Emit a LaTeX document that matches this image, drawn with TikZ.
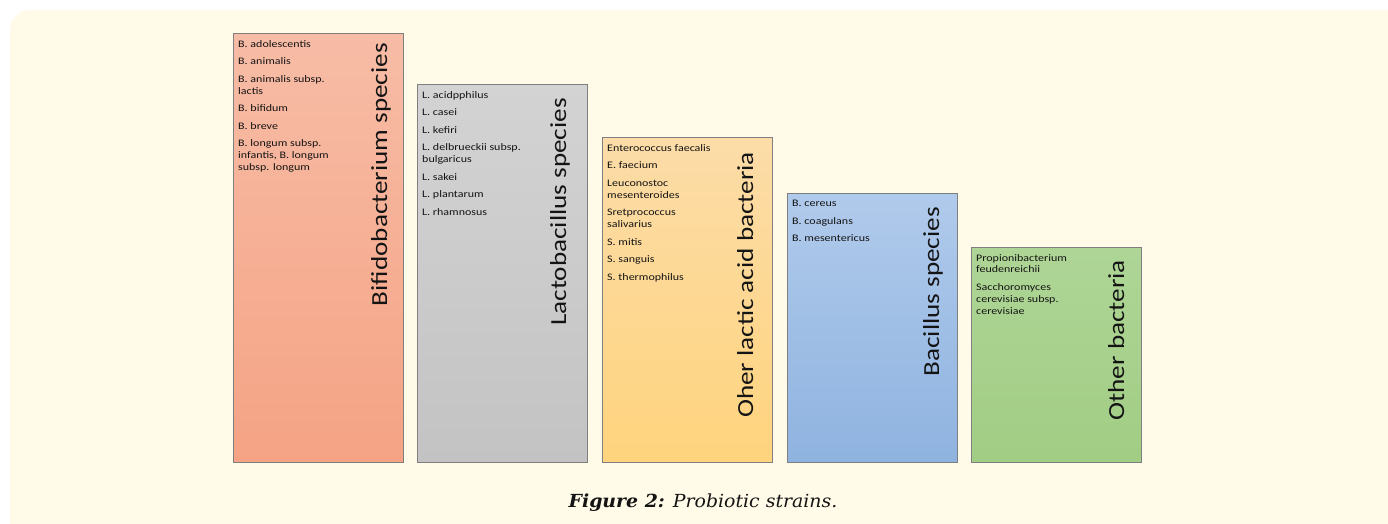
\documentclass[tikz,border=0pt]{standalone}
\usepackage{fontspec}
\setmainfont{DejaVu Serif}
\newfontfamily\capfont[FakeStretch=1.05]{DejaVu Serif}
\newfontfamily\listfont[FakeStretch=1.2]{Carlito}
\newfontfamily\titlefont[FakeStretch=1.18]{Carlito}
\definecolor{bgcream}{HTML}{FFFBE8}
\definecolor{boxborder}{HTML}{7F7F7F}
\definecolor{bifT}{HTML}{F7BCA6}
\definecolor{bifB}{HTML}{F5A384}
\definecolor{lacT}{HTML}{D3D3D3}
\definecolor{lacB}{HTML}{C3C3C3}
\definecolor{labT}{HTML}{FCDCA8}
\definecolor{labB}{HTML}{FFD47E}
\definecolor{bacT}{HTML}{B0CAEB}
\definecolor{bacB}{HTML}{8FB3E0}
\definecolor{othT}{HTML}{AED596}
\definecolor{othB}{HTML}{A1CD84}
\definecolor{ink}{HTML}{141414}
\tikzset{
  catbox/.style={draw=boxborder, line width=1bp, inner sep=0, anchor=north west, minimum width=170bp},
  listtext/.style={anchor=north west, align=left, inner sep=0, text=ink, font=\listfont\fontsize{10bp}{11.8bp}\selectfont},
  titletext/.style={rotate=90, anchor=base east, inner sep=0, text=ink, font=\titlefont\fontsize{23bp}{27bp}\selectfont},
}
\begin{document}
\begin{tikzpicture}[x=1bp,y=-1bp]
\useasboundingbox (0,0) rectangle (1388,524);
\clip (0,0) rectangle (1388,524);
\fill[bgcream, rounded corners=20bp] (10,10) rectangle (1420,560);

% boxes
\node[catbox, top color=bifT, bottom color=bifB, minimum height=429bp] (bif) at (233,33) {};
\node[catbox, top color=lacT, bottom color=lacB, minimum height=378bp] (lac) at (417,84) {};
\node[catbox, top color=labT, bottom color=labB, minimum height=325bp] (lab) at (602,137) {};
\node[catbox, top color=bacT, bottom color=bacB, minimum height=269bp] (bac) at (787,193) {};
\node[catbox, top color=othT, bottom color=othB, minimum height=215bp] (oth) at (971,247) {};

% lists
\node[listtext] (bifL) at ([xshift=5bp,yshift=-7bp]bif.north west)
 {B. adolescentis\\[5.8bp] B. animalis\\[5.8bp] B. animalis subsp.\\ lactis\\[5.8bp] B. bifidum\\[5.8bp] B. breve\\[5.8bp] B. longum subsp.\\ infantis, B. longum\\ subsp. longum};
\node[listtext] (lacL) at ([xshift=5bp,yshift=-7bp]lac.north west)
 {L. acidpphilus\\[5.8bp] L. casei\\[5.8bp] L. kefiri\\[5.8bp] L. delbrueckii subsp.\\ bulgaricus\\[5.8bp] L. sakei\\[5.8bp] L. plantarum\\[5.8bp] L. rhamnosus};
\node[listtext] (labL) at ([xshift=5bp,yshift=-7bp]lab.north west)
 {Enterococcus faecalis\\[5.8bp] E. faecium\\[5.8bp] Leuconostoc\\ mesenteroides\\[5.8bp] Sretprococcus\\ salivarius\\[5.8bp] S. mitis\\[5.8bp] S. sanguis\\[5.8bp] S. thermophilus};
\node[listtext] (bacL) at ([xshift=5bp,yshift=-7bp]bac.north west)
 {B. cereus\\[5.8bp] B. coagulans\\[5.8bp] B. mesentericus};
\node[listtext] (othL) at ([xshift=5bp,yshift=-7bp]oth.north west)
 {Propionibacterium\\ feudenreichii\\[5.8bp] Sacchoromyces\\ cerevisiae subsp.\\ cerevisiae};

% titles
\node[titletext] (bifT) at ([xshift=-17bp,yshift=-10bp]bif.north east) {Bifidobacterium species};
\node[titletext] (lacT) at ([xshift=-22bp,yshift=-14bp]lac.north east) {Lactobacillus species};
\node[titletext] (labT) at ([xshift=-20bp,yshift=-15bp]lab.north east) {Oher lactic acid bacteria};
\node[titletext] (bacT) at ([xshift=-19bp,yshift=-14bp]bac.north east) {Bacillus species};
\node[titletext] (othT) at ([xshift=-18bp,yshift=-13bp]oth.north east) {Other bacteria};

% caption
\node[anchor=base, inner sep=0, text=ink, font=\capfont\fontsize{18bp}{21bp}\selectfont] (cap) at (703,507)
 {\textbf{\textit{Figure 2:}} \textit{Probiotic strains.}};
\end{tikzpicture}
\end{document}
